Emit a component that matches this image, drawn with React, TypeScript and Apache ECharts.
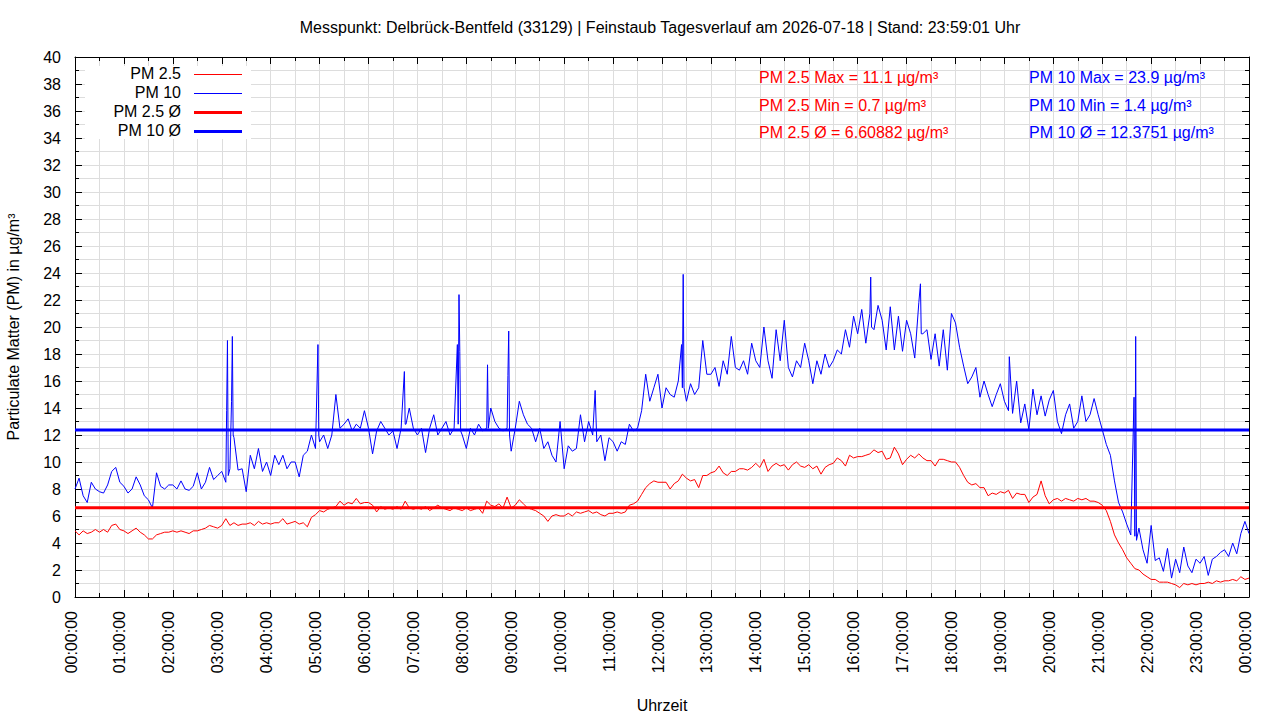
import React, { useEffect, useRef } from "react";
import * as echarts from "echarts";

const TITLE =
  "Messpunkt: Delbrück-Bentfeld (33129) | Feinstaub Tagesverlauf am 2026-07-18 | Stand: 23:59:01 Uhr";
const X_NAME = "Uhrzeit";
const Y_NAME = "Particulate Matter (PM) in µg/m³";

const STEP_MIN = 5;

// PM 10, one value every 5 minutes, 00:00 .. 24:00
const PM10 = [
  8.0, 8.8, 7.5, 7.0, 8.5, 8.0, 7.8, 7.7, 8.3, 9.3, 9.6, 8.5,
  8.2, 7.7, 8.0, 8.9, 8.3, 7.5, 7.2, 6.6, 9.2, 8.2, 8.0, 8.3,
  8.3, 8.0, 8.6, 8.0, 7.9, 8.2, 9.2, 8.0, 8.5, 9.6, 8.7, 9.0,
  9.3, 8.5, 9.5, 11.8, 9.4, 9.5, 7.8, 10.5, 9.5, 11.0, 9.3, 10.0,
  9.0, 10.5, 9.8, 10.5, 9.5, 10.0, 10.0, 8.9, 10.5, 10.8, 12.0, 11.0,
  11.5, 12.0, 11.0, 12.0, 15.0, 12.5, 12.8, 13.2, 12.3, 12.8, 12.5, 13.8,
  12.5, 10.6, 12.3, 13.0, 12.5, 12.0, 12.3, 11.0, 12.5, 12.8, 14.0, 12.5,
  12.0, 12.5, 10.7, 12.5, 13.5, 12.0, 12.5, 13.0, 12.0, 12.5, 12.8, 12.0,
  11.0, 12.5, 12.0, 12.8, 12.3, 12.5, 14.0, 13.0, 12.5, 12.3, 12.5, 10.8,
  12.5, 14.5, 13.5, 12.8, 12.5, 11.5, 12.5, 11.0, 11.5, 10.5, 10.0, 13.0,
  9.5, 11.2, 10.8, 11.0, 13.5, 11.5, 13.0, 12.0, 11.5, 12.0, 10.1, 11.8,
  11.5, 10.8, 11.5, 11.3, 12.8, 12.3, 12.5, 13.8, 16.5, 14.5, 15.5, 16.5,
  14.0, 15.5, 15.0, 14.8, 16.0, 15.5, 14.5, 15.8, 15.0, 15.5, 19.0, 16.5,
  16.5, 17.0, 15.6, 17.5, 16.5, 19.3, 17.0, 16.8, 17.5, 16.5, 18.8, 17.5,
  17.0, 20.0, 17.5, 16.2, 19.8, 17.5, 20.5, 17.0, 16.3, 17.5, 17.0, 18.8,
  17.5, 15.8, 17.5, 16.5, 18.0, 17.0, 17.5, 18.3, 18.0, 19.8, 18.5, 20.8,
  19.5, 21.3, 18.8, 21.0, 19.8, 21.6, 20.5, 18.3, 21.5, 18.3, 20.8, 18.2,
  20.5, 19.5, 17.7, 21.8, 19.5, 19.8, 17.6, 19.5, 17.1, 19.8, 16.8, 21.0,
  20.3, 18.5, 17.1, 15.8, 16.3, 17.0, 14.8, 16.0, 15.0, 14.1, 15.0, 15.8,
  14.5, 13.8, 13.6, 16.0, 12.9, 14.3, 12.4, 15.4, 13.5, 14.9, 13.4, 14.6,
  15.3, 13.0, 12.1, 13.5, 14.3, 12.5, 13.0, 14.9, 13.0, 13.5, 14.7, 13.5,
  12.4, 11.3, 10.5, 8.6, 7.0, 6.3, 5.4, 4.6, 4.5, 5.1, 3.5, 2.5,
  5.3, 2.7, 2.9, 1.9, 3.6, 1.4, 2.8, 1.8, 3.7, 2.3, 1.8, 2.8,
  2.5, 3.0, 1.6, 2.8, 3.0, 3.3, 3.5, 3.0, 4.0, 3.2, 4.7, 5.6,
  4.7,
];

// short PM 10 peaks: [minute of day, value]
const PM10_PEAKS: [number, number][] = [
  [186, 13.8], [187, 19.0], [188, 9.0], [192, 14.5], [193, 19.3], [194, 12.0],
  [298, 18.7], [299, 12.0],
  [404, 16.7], [406, 12.8],
  [469, 18.7], [471, 22.4], [472, 18.2], [473, 12.3],
  [506, 17.2], [507, 12.5],
  [531, 16.4], [532, 19.7], [533, 12.0],
  [638, 15.3],
  [744, 18.7], [746, 23.9], [747, 15.5],
  [976, 23.7], [977, 20.0],
  [1037, 23.2], [1038, 19.5],
  [1146, 17.8],
  [1299, 14.8], [1301, 19.3], [1302, 4.2],
];

// PM 2.5, one value every 5 minutes, 00:00 .. 24:00
const PM25 = [
  4.9, 4.6, 4.9, 4.7, 4.8, 5.0, 4.8, 5.0, 4.8, 5.3, 5.4, 5.0,
  4.9, 4.7, 4.9, 5.1, 4.8, 4.6, 4.3, 4.3, 4.6, 4.7, 4.8, 4.8,
  4.9, 4.8, 4.9, 4.8, 4.7, 4.9, 4.9, 5.0, 5.1, 5.3, 5.2, 5.1,
  5.3, 5.8, 5.3, 5.5, 5.3, 5.4, 5.4, 5.5, 5.3, 5.6, 5.4, 5.5,
  5.4, 5.5, 5.5, 5.8, 5.4, 5.5, 5.6, 5.4, 5.5, 5.2, 5.9, 6.1,
  6.4, 6.3, 6.5, 6.6, 6.7, 7.1, 6.8, 7.0, 6.9, 7.3, 6.9, 7.0,
  7.0, 6.8, 6.3, 6.7, 6.5, 6.6, 6.5, 6.7, 6.5, 7.1, 6.6, 6.5,
  6.6, 6.5, 6.7, 6.4, 6.6, 6.8, 6.6, 6.5, 6.4, 6.6, 6.5, 6.4,
  6.6, 6.4, 6.5, 6.6, 6.2, 7.1, 6.8, 6.7, 6.9, 6.6, 7.4, 6.6,
  6.8, 7.2, 6.9, 6.6, 6.5, 6.4, 6.2, 6.0, 5.6, 6.0, 6.1, 6.0,
  6.0, 6.2, 6.0, 6.3, 6.2, 6.3, 6.4, 6.2, 6.3, 6.1, 6.0, 6.2,
  6.2, 6.3, 6.2, 6.3, 6.8, 6.9, 7.1, 7.6, 8.1, 8.4, 8.6, 8.5,
  8.5, 8.5, 8.0, 8.4, 8.6, 9.1, 8.8, 8.6, 8.7, 8.1, 9.0, 9.0,
  9.2, 9.3, 9.7, 9.2, 9.0, 9.3, 9.3, 9.5, 9.5, 9.4, 9.6, 9.9,
  9.6, 10.2, 9.3, 9.7, 9.9, 9.7, 9.8, 9.4, 9.8, 10.0, 9.7, 9.6,
  9.8, 9.5, 9.7, 9.1, 9.6, 9.8, 9.9, 10.3, 10.1, 9.7, 10.5, 10.3,
  10.4, 10.4, 10.5, 10.6, 10.9, 10.7, 10.8, 10.2, 10.3, 11.1, 10.6, 9.8,
  10.2, 10.5, 10.3, 10.6, 10.3, 10.1, 10.1, 9.7, 10.2, 10.2, 10.1, 10.0,
  10.0, 9.6, 9.0, 8.5, 8.3, 8.4, 8.1, 8.1, 7.5, 7.7, 7.6, 7.8,
  7.7, 7.9, 7.3, 7.7, 7.6, 7.6, 7.0, 7.4, 7.6, 8.6, 7.5, 6.9,
  7.2, 7.3, 7.1, 7.3, 7.2, 7.1, 7.3, 7.2, 7.3, 7.1, 7.1, 7.0,
  6.8, 6.4, 5.6, 4.6, 4.0, 3.5, 2.9, 2.5, 2.1, 2.0, 1.7, 1.5,
  1.3, 1.3, 1.1, 1.1, 1.1, 1.0, 0.9, 0.7, 1.0, 0.9, 1.0, 0.9,
  1.0, 1.0, 1.1, 1.0, 1.2, 1.1, 1.2, 1.2, 1.3, 1.2, 1.5, 1.3,
  1.4,
];

const PM25_MAX = 11.1;
const PM25_MIN = 0.7;
const PM25_AVG = 6.60882;
const PM10_MAX = 23.9;
const PM10_MIN = 1.4;
const PM10_AVG = 12.3751;

const LEGEND_NAMES = ["PM 2.5", "PM 10", "PM 2.5 Ø", "PM 10 Ø"];

const FONT = "'Liberation Sans', Arial, Helvetica, sans-serif";
const RED = "#ff0000";
const BLUE = "#0000ff";
const GRID_COLOR = "#dddddd";

const pad2 = (n: number) => (n < 10 ? "0" + n : "" + n);

export default function App() {
  const ref = useRef<HTMLDivElement>(null);

  useEffect(() => {
    if (!ref.current) return;
    const chart = echarts.init(ref.current, undefined, { renderer: "svg" });

    const pm10Points = PM10.map((v, i) => [i * STEP_MIN, v] as [number, number])
      .concat(PM10_PEAKS)
      .sort((a, b) => a[0] - b[0]);
    const pm25Points = PM25.map((v, i) => [i * STEP_MIN, v]);
    const endMin = (PM10.length - 1) * STEP_MIN;

    const xCommon: any = {
      type: "value",
      min: 0,
      max: 1440,
      interval: 60,
      axisLine: { show: true, onZero: false, lineStyle: { color: "#000", width: 1 } },
      axisTick: { show: true, inside: true, length: 7, lineStyle: { color: "#000" } },
      minorTick: { show: true, splitNumber: 2, length: 4, lineStyle: { color: "#000" } },
    };
    const yCommon: any = {
      type: "value",
      min: 0,
      max: 40,
      interval: 2,
      axisLine: { show: true, onZero: false, lineStyle: { color: "#000", width: 1 } },
      axisTick: { show: true, inside: true, length: 7, lineStyle: { color: "#000" } },
      minorTick: { show: true, splitNumber: 2, length: 4, lineStyle: { color: "#000" } },
    };

    const textStyle = (fill: string, size: number) => ({
      fill,
      fontSize: size,
      fontFamily: FONT,
    });

    const legendRows = [
      { name: LEGEND_NAMES[0], color: RED, width: 1, y: 73 },
      { name: LEGEND_NAMES[1], color: BLUE, width: 1, y: 92 },
      { name: LEGEND_NAMES[2], color: RED, width: 3, y: 111 },
      { name: LEGEND_NAMES[3], color: BLUE, width: 3, y: 130 },
    ];

    const graphics: any[] = [
      {
        type: "rect",
        z: 1,
        shape: { x: 85, y: 66, width: 166, height: 73 },
        style: { fill: "#ffffff", stroke: "none" },
        silent: true,
      },
    ];
    legendRows.forEach((r) => {
      graphics.push({
        type: "text",
        z: 2,
        x: 181,
        y: r.y,
        style: {
          ...textStyle("#000", 16),
          text: r.name,
          align: "right",
          verticalAlign: "middle",
        },
      });
      graphics.push({
        type: "line",
        z: 2,
        shape: { x1: 194, y1: r.y + 1.5, x2: 242, y2: r.y + 1.5 },
        style: { stroke: r.color, lineWidth: r.width },
      });
    });

    const stats = [
      { text: `PM 2.5 Max = ${PM25_MAX} µg/m³`, color: RED, x: 759, y: 77 },
      { text: `PM 2.5 Min = ${PM25_MIN} µg/m³`, color: RED, x: 759, y: 105 },
      { text: `PM 2.5 Ø = ${PM25_AVG} µg/m³`, color: RED, x: 759, y: 132 },
      { text: `PM 10 Max = ${PM10_MAX} µg/m³`, color: BLUE, x: 1029, y: 77 },
      { text: `PM 10 Min = ${PM10_MIN} µg/m³`, color: BLUE, x: 1029, y: 105 },
      { text: `PM 10 Ø = ${PM10_AVG} µg/m³`, color: BLUE, x: 1029, y: 132 },
    ];
    stats.forEach((s) => {
      graphics.push({
        type: "text",
        z: 2,
        x: s.x,
        y: s.y,
        style: {
          ...textStyle(s.color, 16),
          text: s.text,
          align: "left",
          verticalAlign: "middle",
        },
      });
    });

    chart.setOption({
      animation: false,
      backgroundColor: "#ffffff",
      title: {
        text: TITLE,
        left: 655,
        top: 14,
        textAlign: "center",
        textStyle: { fontSize: 16, fontWeight: "normal", color: "#000", fontFamily: FONT },
      },
      grid: {
        left: 75,
        right: 31,
        top: 57,
        bottom: 123,
        containLabel: false,
        outerBoundsMode: "none",
      },
      xAxis: [
        {
          ...xCommon,
          position: "bottom",
          name: X_NAME,
          nameLocation: "middle",
          nameGap: 100,
          nameTextStyle: { fontSize: 16, color: "#000", fontFamily: FONT },
          axisLabel: {
            rotate: 90,
            margin: 14,
            fontSize: 16,
            lineHeight: 8,
            color: "#000",
            fontFamily: FONT,
            verticalAlign: "bottom",
            formatter: (v: number) => pad2(Math.floor(v / 60) % 24) + ":00:00",
          },
          splitLine: { show: true, lineStyle: { color: GRID_COLOR, width: 1 } },
          minorSplitLine: { show: true, lineStyle: { color: GRID_COLOR, width: 1 } },
        },
        {
          ...xCommon,
          position: "top",
          axisLabel: { show: false },
          splitLine: { show: false },
          minorSplitLine: { show: false },
        },
      ],
      yAxis: [
        {
          ...yCommon,
          position: "left",
          name: Y_NAME,
          nameLocation: "middle",
          nameRotate: 90,
          nameGap: 54,
          nameTextStyle: { fontSize: 16, color: "#000", fontFamily: FONT },
          axisLabel: { margin: 14, fontSize: 16, color: "#000", fontFamily: FONT },
          splitLine: { show: true, lineStyle: { color: GRID_COLOR, width: 1 } },
          minorSplitLine: { show: true, lineStyle: { color: GRID_COLOR, width: 1 } },
        },
        {
          ...yCommon,
          position: "right",
          axisLabel: { show: false },
          splitLine: { show: false },
          minorSplitLine: { show: false },
        },
      ],
      series: [
        {
          name: LEGEND_NAMES[0],
          type: "line",
          data: pm25Points,
          symbol: "none",
          showSymbol: false,
          silent: true,
          lineStyle: { color: RED, width: 1 },
          itemStyle: { color: RED },
        },
        {
          name: LEGEND_NAMES[1],
          type: "line",
          data: pm10Points,
          symbol: "none",
          showSymbol: false,
          silent: true,
          lineStyle: { color: BLUE, width: 1 },
          itemStyle: { color: BLUE },
        },
        {
          name: LEGEND_NAMES[2],
          type: "line",
          data: [
            [0, PM25_AVG],
            [endMin, PM25_AVG],
          ],
          symbol: "none",
          showSymbol: false,
          silent: true,
          lineStyle: { color: RED, width: 3 },
          itemStyle: { color: RED },
        },
        {
          name: LEGEND_NAMES[3],
          type: "line",
          data: [
            [0, PM10_AVG],
            [endMin, PM10_AVG],
          ],
          symbol: "none",
          showSymbol: false,
          silent: true,
          lineStyle: { color: BLUE, width: 3 },
          itemStyle: { color: BLUE },
        },
      ],
      graphic: graphics,
    });

    return () => {
      chart.dispose();
    };
  }, []);

  return (
    <div
      ref={ref}
      style={{
        position: "absolute",
        left: 0,
        top: 0,
        width: 1280,
        height: 720,
        background: "#fff",
      }}
    />
  );
}
